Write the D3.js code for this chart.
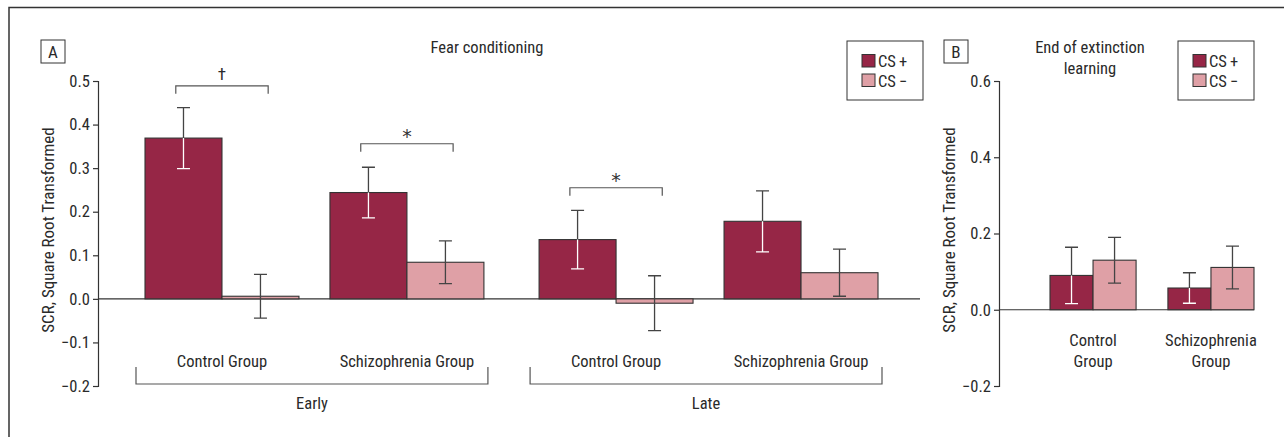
<!DOCTYPE html>
<html><head><meta charset="utf-8">
<script src="https://cdn.jsdelivr.net/npm/d3@7"></script>
<style>
body{margin:0;background:#fff;}
text{font-family:"Liberation Sans Narrow","Roboto Condensed","DejaVu Sans Condensed",sans-serif;fill:#2a2a2a;}
</style></head><body>
<svg id="c" width="1284" height="437"></svg>
<script>
// ---------- data ----------
const phases = ["Early", "Late"];
const groupsA = ["Control Group", "Schizophrenia Group"];
const conditions = ["CS+", "CS−"];
// Panel A means [phase][group] -> [CS+, CS-]
const earlyMeans = [[0.369, 0.006], [0.244, 0.084]];
const earlyErrors = [[0.070, 0.050], [0.058, 0.049]];
const lateMeans = [[0.136, -0.010], [0.178, 0.060]];
const lateErrors = [[0.067, 0.063], [0.070, 0.054]];
const ticksA = [-0.2, -0.1, 0.0, 0.1, 0.2, 0.3, 0.4, 0.5];
// significance brackets in panel A: phase, group, symbol, level (data units)
const sigPhase = ["Early", "Early", "Late"];
const sigGroup = ["Control Group", "Schizophrenia Group", "Control Group"];
const sigSymbol = ["†", "*", "*"];
const sigLevel = [0.489, 0.356, 0.255];

// Panel B
const groupsB = ["Control\nGroup", "Schizophrenia\nGroup"];
const meansB = [[0.090, 0.130], [0.057, 0.111]];
const errorsB = [[0.074, 0.060], [0.040, 0.056]];
const ticksB = [-0.2, 0.0, 0.2, 0.4, 0.6];

const colors = ["#962646", "#DFA0A6"];
const dark = "#333";
const FONT = '"Liberation Sans Narrow","Roboto Condensed","DejaVu Sans Condensed",sans-serif';
const FS = 16.5;

const svg = d3.select("#c");

// outer frame (open on right/bottom)
svg.append("path").attr("d", "M9,437V7.5H1284").attr("fill", "none").attr("stroke", dark).attr("stroke-width", 1.5);

function letterBox(x, y, t) {
  svg.append("rect").attr("x", x).attr("y", y).attr("width", 24).attr("height", 23)
    .attr("fill", "#fff").attr("stroke", dark).attr("stroke-width", 1);
  svg.append("text").attr("x", x + 12).attr("y", y + 18).attr("text-anchor", "middle")
    .attr("font-size", 17).text(t);
}
function legend(x, y) {
  const g = svg.append("g").attr("transform", `translate(${x},${y})`);
  g.append("rect").attr("width", 76).attr("height", 59).attr("fill", "#fff").attr("stroke", dark).attr("stroke-width", 1);
  conditions.forEach((c, i) => {
    g.append("rect").attr("x", 15).attr("y", 13.5 + i * 19.5).attr("width", 13).attr("height", 12.5)
      .attr("fill", colors[i]).attr("stroke", dark).attr("stroke-width", 1);
    g.append("text").attr("x", 31).attr("y", 26 + i * 19.5).attr("font-size", FS)
      .text(c.replace("CS", "CS\u2009"));
  });
}
function yAxis(scale, x, ticks, fmt) {
  const g = svg.append("g").attr("transform", `translate(${x},0)`)
    .call(d3.axisLeft(scale).tickValues(ticks).tickSize(5).tickPadding(3).tickFormat(fmt));
  g.select(".domain").attr("stroke", dark).attr("stroke-width", 1.2);
  g.selectAll(".tick line").attr("stroke", dark).attr("stroke-width", 1.2);
  g.selectAll(".tick text").attr("font-size", FS).attr("fill", "#2a2a2a").style("font-family", FONT);
  return g;
}
const fmt1 = d => (d < 0 ? "\u2212" : "") + d3.format(".1f")(Math.abs(d));

function drawBar(x, w, y, v, e, i) {
  const y0 = y(0);
  svg.append("rect").attr("x", x).attr("width", w)
    .attr("y", Math.min(y(v), y0)).attr("height", Math.abs(y(v) - y0))
    .attr("fill", colors[i]).attr("stroke", dark).attr("stroke-width", 1.1);
  const cx = x + w / 2, cap = 6.5;
  const hi = v + e, lo = v - e;
  const inner = (i === 0) ? "#fff" : "#444";
  svg.append("path").attr("d", `M${cx},${y(v)}V${y(hi)}M${cx - cap},${y(hi)}H${cx + cap}`)
    .attr("stroke", "#444").attr("stroke-width", 1.3).attr("fill", "none");
  svg.append("path").attr("d", `M${cx},${y(v)}V${y(lo)}M${cx - cap},${y(lo)}H${cx + cap}`)
    .attr("stroke", inner).attr("stroke-width", 1.3).attr("fill", "none");
}

// ---------- Panel A ----------
const yA = d3.scaleLinear().domain([-0.2, 0.5]).range([386, 81]);
const xPhase = d3.scaleBand().domain(phases).range([145, 878]).paddingInner(0.14);
const xGroup = d3.scaleBand().domain(groupsA).range([0, xPhase.bandwidth()]).paddingInner(0.1676);
const xCond = d3.scaleBand().domain(conditions).range([0, xGroup.bandwidth()]);

svg.append("line").attr("x1", 98).attr("x2", 920).attr("y1", yA(0)).attr("y2", yA(0))
  .attr("stroke", dark).attr("stroke-width", 1.2);
yAxis(yA, 98, ticksA, fmt1);

const meansA = [earlyMeans, lateMeans], errsA = [earlyErrors, lateErrors];
phases.forEach((p, pi) => {
  groupsA.forEach((g, gi) => {
    conditions.forEach((c, ci) => {
      const x = xPhase(p) + xGroup(g) + xCond(c);
      drawBar(x, xCond.bandwidth(), yA, meansA[pi][gi][ci], errsA[pi][gi][ci], ci);
    });
    svg.append("text").attr("x", xPhase(p) + xGroup(g) + xGroup.bandwidth() / 2).attr("y", 367)
      .attr("text-anchor", "middle").attr("font-size", FS).text(g);
  });
  const x1 = xPhase(p) - 9, x2 = xPhase(p) + xPhase.bandwidth() + 4;
  svg.append("path").attr("d", `M${x1},367V384H${x2}V367`).attr("fill", "none")
    .attr("stroke", "#555").attr("stroke-width", 1.2);
  svg.append("text").attr("x", (x1 + x2) / 2).attr("y", 409).attr("text-anchor", "middle")
    .attr("font-size", FS).text(p);
});

sigSymbol.forEach((s, i) => {
  const cx = xPhase(sigPhase[i]) + xGroup(sigGroup[i]) + xGroup.bandwidth() / 2;
  const half = xCond.bandwidth() * 0.6;
  const yb = yA(sigLevel[i]);
  svg.append("path").attr("d", `M${cx - half},${yb + 8}V${yb}H${cx + half}V${yb + 8}`)
    .attr("fill", "none").attr("stroke", "#555").attr("stroke-width", 1.2);
  const t = svg.append("text").attr("x", cx).attr("text-anchor", "middle").text(s);
  if (s === "*") {
    t.attr("y", yb - 1).attr("font-size", 19)
      .style("font-family", '"DejaVu Sans",sans-serif').style("fill", "#333");
  } else {
    t.attr("y", yb - 6).attr("font-size", 17);
  }
});

svg.append("text").attr("transform", "translate(54,230) rotate(-90)").attr("text-anchor", "middle")
  .attr("font-size", 17).text("SCR, Square Root Transformed");
svg.append("text").attr("x", 487).attr("y", 53).attr("text-anchor", "middle").attr("font-size", FS)
  .text("Fear conditioning");
letterBox(41, 40, "A");
legend(847, 41);

// ---------- Panel B ----------
const yB = d3.scaleLinear().domain([-0.2, 0.6]).range([386, 81]);
const xGB = d3.scaleBand().domain(groupsB).range([1050, 1254]).paddingInner(0.27);
const xCB = d3.scaleBand().domain(conditions).range([0, xGB.bandwidth()]);
svg.append("line").attr("x1", 999).attr("x2", 1254).attr("y1", yB(0)).attr("y2", yB(0))
  .attr("stroke", dark).attr("stroke-width", 1.2);
yAxis(yB, 999, ticksB, fmt1);
groupsB.forEach((g, gi) => {
  conditions.forEach((c, ci) => {
    drawBar(xGB(g) + xCB(c), xCB.bandwidth(), yB, meansB[gi][ci], errorsB[gi][ci], ci);
  });
  const t = svg.append("text").attr("text-anchor", "middle").attr("font-size", FS);
  g.split("\n").forEach((line, li) => {
    t.append("tspan").attr("x", xGB(g) + xGB.bandwidth() / 2).attr("y", 346 + li * 20.5).text(line);
  });
});
svg.append("text").attr("transform", "translate(955,230) rotate(-90)").attr("text-anchor", "middle")
  .attr("font-size", 17).text("SCR, Square Root Transformed");
const tt = svg.append("text").attr("text-anchor", "middle").attr("font-size", FS);
["End of extinction", "learning"].forEach((l, i) => tt.append("tspan").attr("x", 1090).attr("y", 53 + i * 20.5).text(l));
letterBox(944, 40, "B");
legend(1178, 41);
</script></body></html>
